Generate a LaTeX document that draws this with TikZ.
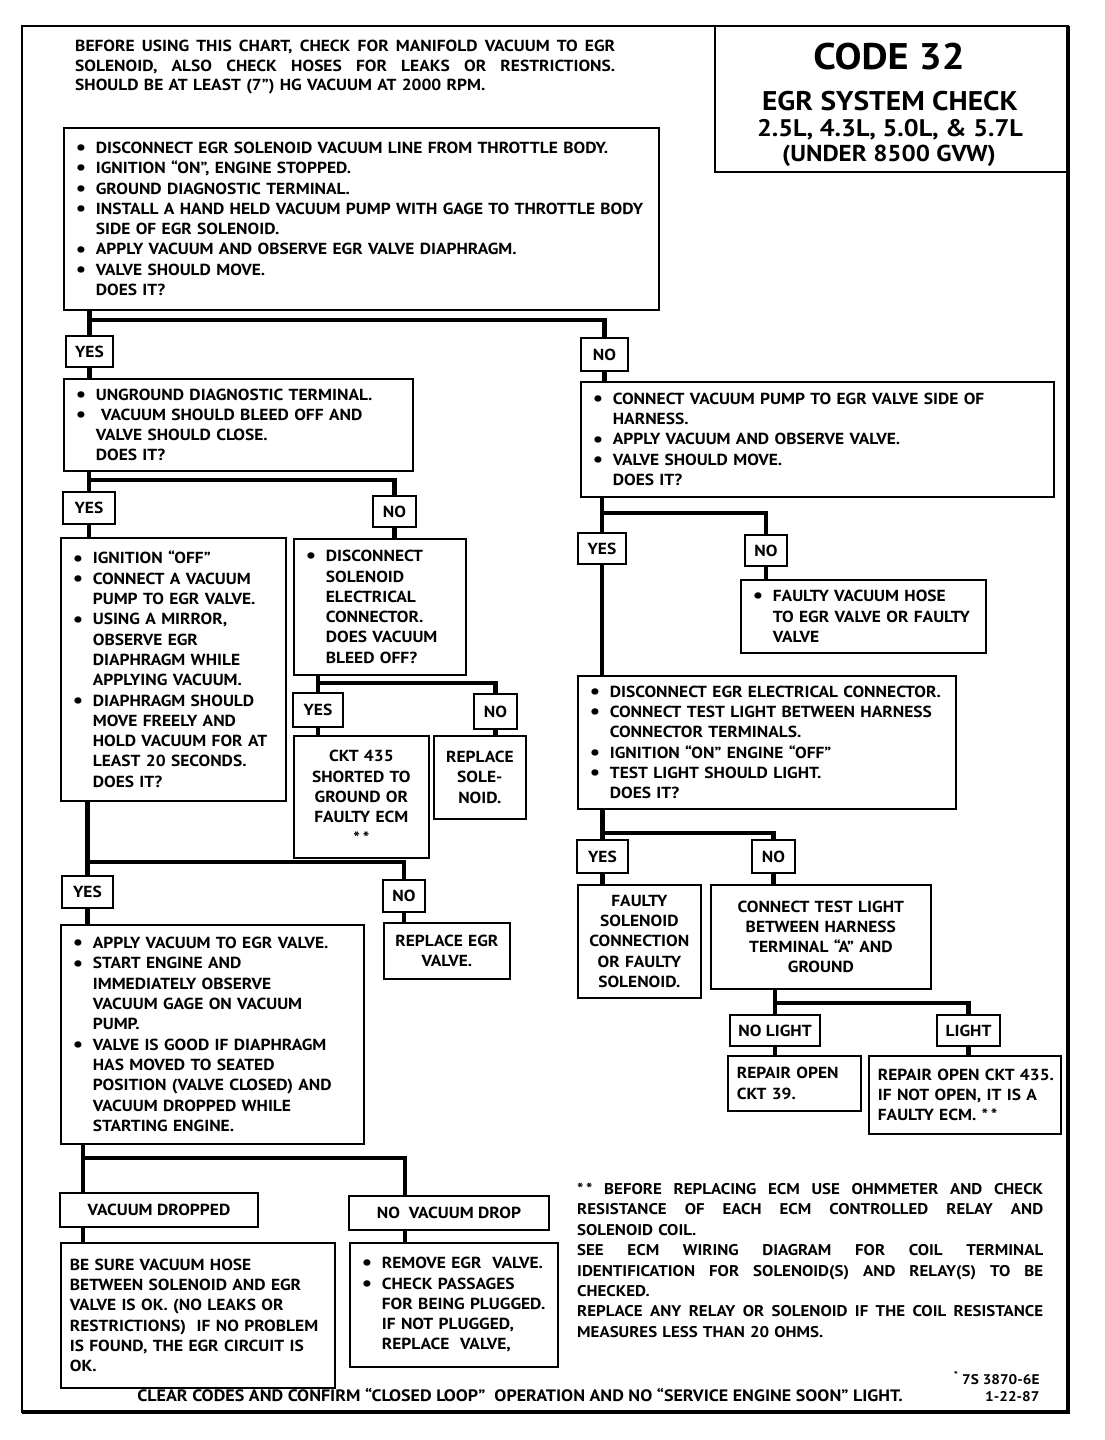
\documentclass[tikz,border=0pt]{standalone}
\usepackage{fontspec}
\setmainfont{PT Sans}[FakeStretch=1.09]
\newcommand{\boxfont}{\fontsize{16}{20.3}\selectfont\bfseries}
\newcommand{\notefont}{\fontsize{16}{19.5}\selectfont\bfseries}
\newcommand{\bl}[1]{\makebox[20pt][l]{\raisebox{-1.2pt}{\fontsize{21}{21}\selectfont\textbullet}}\mbox{#1}}
\newcommand{\ind}[1]{\hspace*{20pt}\mbox{#1}}
\newcommand{\pl}[1]{\mbox{#1}}
\newcommand{\just}[2]{\makebox[#1][s]{\frenchspacing\spaceskip=.25em plus 1fil\relax#2}}

\begin{document}
\begin{tikzpicture}[x=1pt,y=-1pt,every node/.style={font=\boxfont}]
\tikzstyle{box}=[draw,line width=1.7pt,anchor=north west,align=left,inner xsep=12pt,inner ysep=0pt]
\tikzstyle{cbox}=[box,align=center,inner xsep=4pt]
\tikzstyle{pbox}=[box,inner xsep=9pt]
\tikzstyle{tag}=[draw,line width=1.7pt,inner sep=0pt]
\tikzstyle{wire}=[line width=4.8pt]
\useasboundingbox (0,0) rectangle (1104,1440);

% frame and title
\draw[line width=2pt] (22,26) rectangle (1068,1412);
\draw[line width=3.5pt] (1068,26) -- (1068,1412) -- (22,1412);
\draw[line width=1.7pt] (715,26) |- (1068,172);
\node[font=\fontsize{37}{40}\selectfont\bfseries] (code) at (889,57) {CODE 32};
\node[font=\fontsize{27}{30}\selectfont\bfseries] (sys) at (890,101) {EGR SYSTEM CHECK};
\node[font=\fontsize{24}{27}\selectfont\bfseries] (eng) at (890,130) {2.5L, 4.3L, 5.0L, \& 5.7L};
\node[font=\fontsize{23}{26}\selectfont\bfseries] (gvw) at (889,156) {(UNDER 8500 GVW)};
\node[anchor=north west,text width=540pt,align=left,inner sep=0pt,font=\notefont] (note) at (75,40)
  {\just{540pt}{BEFORE USING THIS CHART, CHECK FOR MANIFOLD VACUUM TO EGR}\\
   \just{540pt}{SOLENOID, ALSO CHECK HOSES FOR LEAKS OR RESTRICTIONS.}\\
   SHOULD BE AT LEAST (7”) HG VACUUM AT 2000 RPM.};

% left column
\node[box,text width=571pt,minimum height=182pt] (b1) at (63,127)
  {\bl{DISCONNECT EGR SOLENOID VACUUM LINE FROM THROTTLE BODY.}\\
   \bl{IGNITION “ON”, ENGINE STOPPED.}\\
   \bl{GROUND DIAGNOSTIC TERMINAL.}\\
   \bl{INSTALL A HAND HELD VACUUM PUMP WITH GAGE TO THROTTLE BODY}\\
   \ind{SIDE OF EGR SOLENOID.}\\
   \bl{APPLY VACUUM AND OBSERVE EGR VALVE DIAPHRAGM.}\\
   \bl{VALVE SHOULD MOVE.}\\
   \ind{DOES IT?}};
\node[tag,minimum width=47pt,minimum height=31pt] (l1y) at (89.5,351.5) {YES};
\node[tag,minimum width=47pt,minimum height=33pt] (l1n) at (604.5,354.5) {NO};
\node[box,text width=325pt,minimum height=92pt] (b2) at (63,378)
  {\bl{UNGROUND DIAGNOSTIC TERMINAL.}\\
   \bl{\ VACUUM SHOULD BLEED OFF AND}\\
   \ind{VALVE SHOULD CLOSE.}\\
   \ind{DOES IT?}};
\node[tag,minimum width=52pt,minimum height=32pt] (l2y) at (89,508) {YES};
\node[tag,minimum width=43pt,minimum height=31pt] (l2n) at (394.5,511.5) {NO};
\node[box,text width=201pt,minimum height=263pt] (b4) at (60,537)
  {\bl{IGNITION “OFF”}\\
   \bl{CONNECT A VACUUM}\\
   \ind{PUMP TO EGR VALVE.}\\
   \bl{USING A MIRROR,}\\
   \ind{OBSERVE EGR}\\
   \ind{DIAPHRAGM WHILE}\\
   \ind{APPLYING VACUUM.}\\
   \bl{DIAPHRAGM SHOULD}\\
   \ind{MOVE FREELY AND}\\
   \ind{HOLD VACUUM FOR AT}\\
   \ind{LEAST 20 SECONDS.}\\
   \ind{DOES IT?}};
\node[box,text width=148pt,minimum height=136pt] (b5) at (293,538)
  {\bl{DISCONNECT}\\
   \ind{SOLENOID}\\
   \ind{ELECTRICAL}\\
   \ind{CONNECTOR.}\\
   \ind{DOES VACUUM}\\
   \ind{BLEED OFF?}};
\node[tag,minimum width=50pt,minimum height=34pt] (l5y) at (318,710) {YES};
\node[tag,minimum width=43pt,minimum height=35pt] (l5n) at (495.5,711.5) {NO};
\node[cbox,text width=127pt,minimum height=122pt] (b6) at (293,735)
  {CKT 435\\SHORTED TO\\GROUND OR\\FAULTY ECM\\{*}\hspace{3pt}*};
\node[cbox,text width=84pt,minimum height=83pt] (b7) at (433,735)
  {REPLACE\\SOLE-\\NOID.};
\node[tag,minimum width=51pt,minimum height=32pt] (l4y) at (87.5,892) {YES};
\node[tag,minimum width=42pt,minimum height=32pt] (l4n) at (404,896) {NO};
\node[box,text width=279pt,minimum height=219pt] (b8) at (60,924)
  {\bl{APPLY VACUUM TO EGR VALVE.}\\
   \bl{START ENGINE AND}\\
   \ind{IMMEDIATELY OBSERVE}\\
   \ind{VACUUM GAGE ON VACUUM}\\
   \ind{PUMP.}\\
   \bl{VALVE IS GOOD IF DIAPHRAGM}\\
   \ind{HAS MOVED TO SEATED}\\
   \ind{POSITION (VALVE CLOSED) AND}\\
   \ind{VACUUM DROPPED WHILE}\\
   \ind{STARTING ENGINE.}};
\node[cbox,text width=118pt,minimum height=56pt] (b9) at (383,922)
  {REPLACE EGR\\VALVE.};
\node[tag,minimum width=198pt,minimum height=34pt] (l8y) at (159,1210) {VACUUM DROPPED};
\node[tag,minimum width=200pt,minimum height=34pt] (l8n) at (449,1213) {NO\ \ VACUUM DROP};
\node[pbox,text width=256pt,minimum height=145pt] (b10) at (60,1242)
  {\pl{BE SURE VACUUM HOSE}\\
   \pl{BETWEEN SOLENOID AND EGR}\\
   \pl{VALVE IS OK. (NO LEAKS OR}\\
   \pl{RESTRICTIONS)\ \ IF NO PROBLEM}\\
   \pl{IS FOUND, THE EGR CIRCUIT IS}\\
   \pl{OK.}};
\node[box,text width=184pt,minimum height=124pt] (b11) at (349,1242)
  {\bl{REMOVE EGR\ \ VALVE.}\\
   \bl{CHECK PASSAGES}\\
   \ind{FOR BEING PLUGGED.}\\
   \ind{IF NOT PLUGGED,}\\
   \ind{REPLACE\ \ VALVE,}};

% right column
\node[box,text width=449pt,minimum height=115pt] (b3) at (580,381)
  {\bl{CONNECT VACUUM PUMP TO EGR VALVE SIDE OF}\\
   \ind{HARNESS.}\\
   \bl{APPLY VACUUM AND OBSERVE VALVE.}\\
   \bl{VALVE SHOULD MOVE.}\\
   \ind{DOES IT?}};
\node[tag,minimum width=48pt,minimum height=31pt] (r1y) at (602,548.5) {YES};
\node[tag,minimum width=42pt,minimum height=31pt] (r1n) at (766,550.5) {NO};
\node[box,text width=221pt,minimum height=73pt] (b12) at (740,579)
  {\bl{FAULTY VACUUM HOSE}\\
   \ind{TO EGR VALVE OR FAULTY}\\
   \ind{VALVE}};
\node[box,text width=354pt,minimum height=133pt] (b13) at (577,675)
  {\bl{DISCONNECT EGR ELECTRICAL CONNECTOR.}\\
   \bl{CONNECT TEST LIGHT BETWEEN HARNESS}\\
   \ind{CONNECTOR TERMINALS.}\\
   \bl{IGNITION “ON” ENGINE “OFF”}\\
   \bl{TEST LIGHT SHOULD LIGHT.}\\
   \ind{DOES IT?}};
\node[tag,minimum width=51pt,minimum height=33pt] (l13y) at (602.5,856.5) {YES};
\node[tag,minimum width=43pt,minimum height=33pt] (l13n) at (773.5,856.5) {NO};
\node[cbox,text width=115pt,minimum height=113pt] (b14) at (577,884)
  {FAULTY\\SOLENOID\\CONNECTION\\OR FAULTY\\SOLENOID.};
\node[cbox,text width=212pt,minimum height=104pt] (b15) at (710,884)
  {CONNECT TEST LIGHT\\BETWEEN HARNESS\\TERMINAL “A” AND\\GROUND};
\node[tag,minimum width=90pt,minimum height=31pt] (nolight) at (775,1030.5) {NO LIGHT};
\node[tag,minimum width=63pt,minimum height=31pt] (light) at (968.5,1030.5) {LIGHT};
\node[pbox,text width=115pt,minimum height=55pt] (b16) at (727,1055)
  {\pl{REPAIR OPEN}\\\pl{CKT 39.}};
\node[pbox,text width=174pt,minimum height=78pt] (b17) at (868,1055)
  {\pl{REPAIR OPEN CKT 435.}\\\pl{IF NOT OPEN, IT IS A}\\\pl{FAULTY ECM. *\,*}};

% junction rows
\coordinate (j1) at (0,320);
\coordinate (j2) at (0,480);
\coordinate (j5) at (0,683);
\coordinate (j4) at (0,862);
\coordinate (t8) at (83,1158);
\coordinate (t8n) at (405,1158);
\coordinate (jr) at (0,513);
\coordinate (j13) at (0,833);
\coordinate (j15) at (0,1003);

% wires
\draw[wire] (l1y.north |- b1.south) -- (l1y.north);
\draw[wire] (l1y.north |- j1) -| (l1n.north);
\draw[wire] (l1y.south) -- (l1y.south |- b2.north);
\draw[wire] (l1n.south) -- (l1n.south |- b3.north);
\draw[wire] (l2y.north |- b2.south) -- (l2y.north);
\draw[wire] (l2y.north |- j2) -| (l2n.north);
\draw[wire] (l2y.south) -- (l2y.south |- b4.north);
\draw[wire] (l2n.south) -- (l2n.south |- b5.north);
\draw[wire] (l5y.north |- b5.south) -- (l5y.north);
\draw[wire] (l5y.north |- j5) -| (l5n.north);
\draw[wire] (l5y.south) -- (l5y.south |- b6.north);
\draw[wire] (l5n.south) -- (l5n.south |- b7.north);
\draw[wire] (l4y.north |- b4.south) -- (l4y.north);
\draw[wire] (l4y.north |- j4) -| (l4n.north);
\draw[wire] (l4y.south) -- (l4y.south |- b8.north);
\draw[wire] (l4n.south) -- (l4n.south |- b9.north);
\draw[wire] (t8 |- b8.south) -- (t8 |- l8y.north);
\draw[wire] (t8) -- (t8n) -- (t8n |- l8n.north);
\draw[wire] (t8 |- l8y.south) -- (t8 |- b10.north);
\draw[wire] (t8n |- l8n.south) -- (t8n |- b11.north);
\draw[wire] (r1y.north |- b3.south) -- (r1y.north);
\draw[wire] (r1y.north |- jr) -| (r1n.north);
\draw[wire] (r1y.south) -- (r1y.south |- b13.north);
\draw[wire] (r1n.south) -- (r1n.south |- b12.north);
\draw[wire] (l13y.north |- b13.south) -- (l13y.north);
\draw[wire] (l13y.north |- j13) -| (l13n.north);
\draw[wire] (l13y.south) -- (l13y.south |- b14.north);
\draw[wire] (l13n.south) -- (l13n.south |- b15.north);
\draw[wire] (nolight.north |- b15.south) -- (nolight.north);
\draw[wire] (nolight.north |- j15) -| (light.north);
\draw[wire] (nolight.south) -- (nolight.south |- b16.north);
\draw[wire] (light.south) -- (light.south |- b17.north);

% notes
\node[anchor=north west,text width=466pt,align=left,inner sep=0pt,font=\fontsize{15.5}{20.4}\selectfont\bfseries] (foot) at (577,1183)
  {\just{466pt}{*\,* BEFORE REPLACING ECM USE OHMMETER AND CHECK}\\
   \just{466pt}{RESISTANCE OF EACH ECM CONTROLLED RELAY AND}\\
   SOLENOID COIL.\\
   \just{466pt}{SEE ECM WIRING DIAGRAM FOR COIL TERMINAL}\\
   \just{466pt}{IDENTIFICATION FOR SOLENOID(S) AND RELAY(S) TO BE}\\
   CHECKED.\\
   \just{466pt}{REPLACE ANY RELAY OR SOLENOID IF THE COIL RESISTANCE}\\
   MEASURES LESS THAN 20 OHMS.};
\node[anchor=east,font=\fontsize{14}{16}\selectfont\bfseries] (ref1) at (1043,1378) {\textsuperscript{*} 7S 3870-6E};
\node[anchor=east,font=\fontsize{14}{16}\selectfont\bfseries] (ref2) at (1043,1397) {1-22-87};
\node[font=\fontsize{16.5}{18}\selectfont\bfseries] (clear) at (520,1395)
  {CLEAR CODES AND CONFIRM “CLOSED LOOP”\ \ OPERATION AND NO “SERVICE ENGINE SOON” LIGHT.};
\end{tikzpicture}
\end{document}
